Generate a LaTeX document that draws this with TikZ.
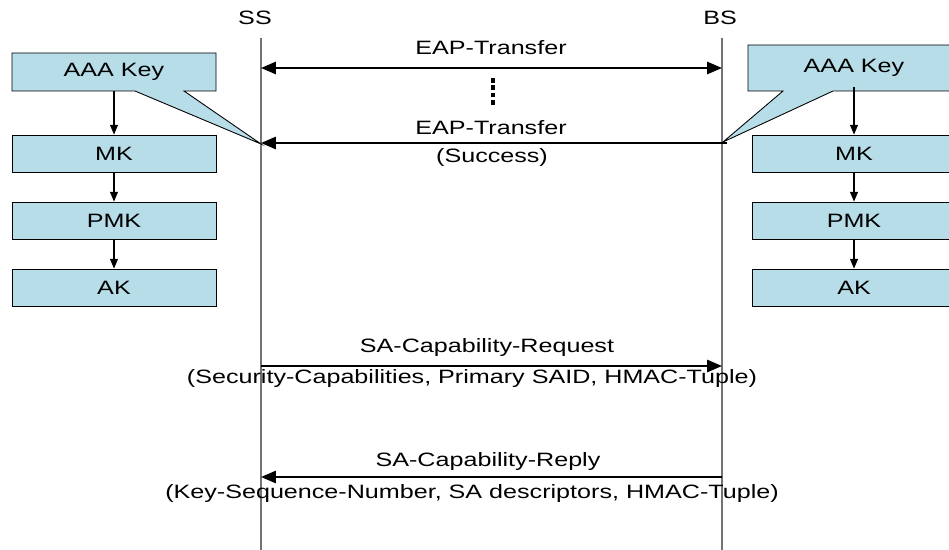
\documentclass[tikz,border=0pt]{standalone}
\usepackage{fontspec}
\setmainfont[FakeStretch=1.3]{Liberation Sans}
\usetikzlibrary{arrows.meta}
\definecolor{boxfill}{RGB}{183,222,232}
\begin{document}
\begin{tikzpicture}[x=0.02cm,y=-0.02cm,
 kbox/.style={draw=black, line width=0.5pt, fill=boxfill, minimum width=4.08cm, minimum height=0.74cm, inner sep=0pt, font=\fontsize{11}{13}\selectfont},
 ktext/.style={minimum height=0.76cm, inner sep=0pt, font=\fontsize{11}{13}\selectfont},
 callout/.style={draw=black, line width=0.5pt, fill=boxfill},
 lbl/.style={font=\fontsize{11}{13}\selectfont, inner sep=0pt},
 msg/.style={line width=1.1pt, -{Triangle[length=8.5pt,width=7pt]}},
 kar/.style={line width=0.6pt, -{Triangle[length=5.5pt,width=4.5pt]}},
 life/.style={draw=black!55, line width=0.6pt}]
\clip (0,0) rectangle (949,550);
\fill[white] (0,0) rectangle (949,550);

% lifelines
\node[lbl] (ssl) at (255,18) {SS};
\node[lbl] (bsl) at (720,18) {BS};
\coordinate (ssT) at (261,38); \coordinate (ssB) at (261,552);
\coordinate (bsT) at (722,38); \coordinate (bsB) at (722,552);
\draw[life] (ssT) -- (ssB);
\draw[life] (bsT) -- (bsB);

% left callout and key chain
\draw[callout] (12,53) -- (216,53) -- (216,91) -- (184,91) -- (261,144) -- (135,91) -- (12,91) -- cycle;
\node[ktext, minimum width=4.08cm] (aaaL) at (114,72) {AAA Key};
\node[kbox] (mkL) at (114,153.5) {MK};
\node[kbox] (pmkL) at (114,220.5) {PMK};
\node[kbox] (akL) at (114,287.5) {AK};
\draw[kar] (aaaL.south) -- (mkL.north);
\draw[kar] (mkL.south) -- (pmkL.north);
\draw[kar] (pmkL.south) -- (akL.north);

% right callout and key chain
\draw[callout] (748,45) -- (960,45) -- (960,91) -- (833,91) -- (723,142) -- (783,91) -- (748,91) -- cycle;
\node[ktext, minimum width=4.24cm] (aaaR) at (854,68) {AAA Key};
\node[kbox] (mkR) at (854,153.5) {MK};
\node[kbox] (pmkR) at (854,220.5) {PMK};
\node[kbox] (akR) at (854,287.5) {AK};
\draw[kar] (aaaR.south) -- (mkR.north);
\draw[kar] (mkR.south) -- (pmkR.north);
\draw[kar] (pmkR.south) -- (akR.north);

% messages
\coordinate (s1) at (261,68); \coordinate (b1) at (722,68);
\draw[msg, {Triangle[length=8.5pt,width=7pt]}-{Triangle[length=8.5pt,width=7pt]}] (s1) -- (b1);
\node[lbl] (m1) at (491,48) {EAP-Transfer};
\coordinate (d1) at (493,78); \coordinate (d2) at (493,106);
\draw[line width=2.6pt, dash pattern=on 2.6pt off 1.6pt] (d1) -- (d2);

\coordinate (s2) at (261,143); \coordinate (b2) at (727,143);
\draw[msg] (b2) -- (s2);
\node[lbl] (m2) at (491,128) {EAP-Transfer};
\node[lbl] (m2b) at (492,158) {(Success)};

\coordinate (s3) at (261,366); \coordinate (b3) at (722,366);
\draw[msg] (s3) -- (b3);
\node[lbl] (m3) at (487,348) {SA-Capability-Request};
\node[lbl] (m3b) at (472,379) {(Security-Capabilities, Primary SAID, HMAC-Tuple)};

\coordinate (s4) at (261,477); \coordinate (b4) at (722,477);
\draw[msg] (b4) -- (s4);
\node[lbl] (m4) at (488,462) {SA-Capability-Reply};
\node[lbl] (m4b) at (472,493) {(Key-Sequence-Number, SA descriptors, HMAC-Tuple)};
\end{tikzpicture}
\end{document}
